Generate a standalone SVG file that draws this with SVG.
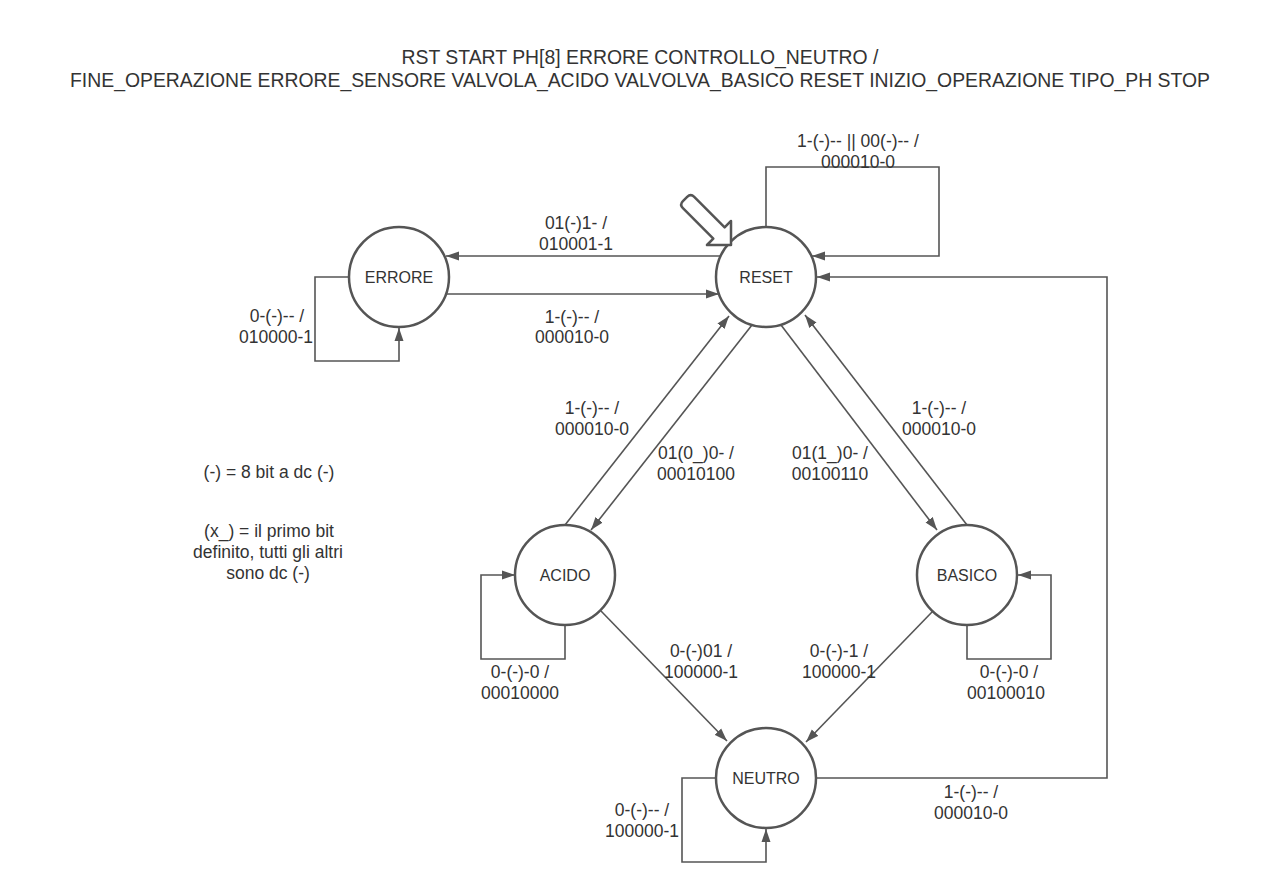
<svg xmlns="http://www.w3.org/2000/svg" width="1280" height="895" viewBox="0 0 1280 895">
<style>
.bg{fill:#ffffff}
.node{fill:#ffffff;stroke:#555555;stroke-width:2.5}
.nt{font-family:"Liberation Sans",Arial,sans-serif;font-size:16px;fill:#333333;text-anchor:middle}
.lbl{font-family:"Liberation Sans",Arial,sans-serif;font-size:17.5px;fill:#333333;text-anchor:middle}
.ttl{font-family:"Liberation Sans",Arial,sans-serif;font-size:19.4px;fill:#333333;text-anchor:middle}
.edge{fill:none;stroke:#555555;stroke-width:1.6;marker-end:url(#arr)}
.init{fill:#ffffff;stroke:#555555;stroke-width:2.5;stroke-linejoin:round}
</style>
<defs>
<marker id="arr" markerUnits="userSpaceOnUse" markerWidth="14" markerHeight="10" refX="13" refY="5" orient="auto">
<path d="M0,0.5 L13,5 L0,9.5 z" fill="#555555"/>
</marker>
</defs>
<rect class="bg" x="0" y="0" width="1280" height="895"/>
<g id="title">
<text class="ttl" x="640" y="64">RST START PH[8] ERRORE CONTROLLO_NEUTRO /</text>
<text class="ttl" x="640" y="87">FINE_OPERAZIONE ERRORE_SENSORE VALVOLA_ACIDO VALVOLVA_BASICO RESET INIZIO_OPERAZIONE TIPO_PH STOP</text>
</g>
<g id="legend">
<text class="lbl" x="269" y="478">(-) = 8 bit a dc (-)</text>
<text class="lbl" x="269" y="537">(x_) = il primo bit</text>
<text class="lbl" x="268" y="558">definito, tutti gli altri</text>
<text class="lbl" x="268" y="579">sono dc (-)</text>
</g>
<g id="connectors">
<path class="edge" d="M720,256 H446"/>
<path class="edge" d="M446,294 H719"/>
<path class="edge" d="M349,277 H315 V361 H399 V328"/>
<path class="edge" d="M766,227 V167 H939 V256 H812"/>
<path class="edge" d="M816,778 H1107 V277 H817"/>
<path class="edge" d="M565,525 L729,316"/>
<path class="edge" d="M752,325 L591,530"/>
<path class="edge" d="M781,325 L937,530"/>
<path class="edge" d="M967,525 L805,315"/>
<path class="edge" d="M565,625 V659 H481 V575 H515"/>
<path class="edge" d="M967,625 V659 H1051 V575 H1018"/>
<path class="edge" d="M601,611 L727,741"/>
<path class="edge" d="M933,611 L806,742"/>
<path class="edge" d="M716,778 H682 V862 H766 V829"/>
</g>
<g id="edge-labels">
<text class="lbl" x="576" y="229">01(-)1- /</text>
<text class="lbl" x="576" y="250">010001-1</text>
<text class="lbl" x="572" y="323">1-(-)-- /</text>
<text class="lbl" x="572" y="343">000010-0</text>
<text class="lbl" x="277" y="322">0-(-)-- /</text>
<text class="lbl" x="276" y="343">010000-1</text>
<text class="lbl" x="858" y="147">1-(-)-- || 00(-)-- /</text>
<text class="lbl" x="858" y="168">000010-0</text>
<text class="lbl" x="592" y="414">1-(-)-- /</text>
<text class="lbl" x="592" y="435">000010-0</text>
<text class="lbl" x="696" y="459">01(0_)0- /</text>
<text class="lbl" x="696" y="480">00010100</text>
<text class="lbl" x="830" y="459">01(1_)0- /</text>
<text class="lbl" x="830" y="480">00100110</text>
<text class="lbl" x="939" y="414">1-(-)-- /</text>
<text class="lbl" x="939" y="435">000010-0</text>
<text class="lbl" x="520" y="678">0-(-)-0 /</text>
<text class="lbl" x="520" y="699">00010000</text>
<text class="lbl" x="1009" y="678">0-(-)-0 /</text>
<text class="lbl" x="1006" y="699">00100010</text>
<text class="lbl" x="701" y="657">0-(-)01 /</text>
<text class="lbl" x="701" y="678">100000-1</text>
<text class="lbl" x="839" y="657">0-(-)-1 /</text>
<text class="lbl" x="839" y="678">100000-1</text>
<text class="lbl" x="642" y="816">0-(-)-- /</text>
<text class="lbl" x="642" y="837">100000-1</text>
<text class="lbl" x="971" y="798">1-(-)-- /</text>
<text class="lbl" x="971" y="819">000010-0</text>
</g>
<g id="node-errore">
<circle class="node" cx="399" cy="277" r="50"/>
<text class="nt" x="399" y="283">ERRORE</text>
</g>
<g id="node-reset">
<circle class="node" cx="766" cy="277" r="50"/>
<text class="nt" x="766" y="283">RESET</text>
</g>
<g id="node-acido">
<circle class="node" cx="565" cy="575" r="50"/>
<text class="nt" x="565" y="581">ACIDO</text>
</g>
<g id="node-basico">
<circle class="node" cx="967" cy="575" r="50"/>
<text class="nt" x="967" y="581">BASICO</text>
</g>
<g id="node-neutro">
<circle class="node" cx="766" cy="778" r="50"/>
<text class="nt" x="766" y="784">NEUTRO</text>
</g>
<g id="initial-arrow">
<path class="init" transform="translate(731,245) rotate(45)" d="M0,0 L-17,-17 L-17,-8 L-60,-8 Q-65,-8 -65,-3 L-65,3 Q-65,8 -60,8 L-17,8 L-17,17 Z"/>
</g>
</svg>
